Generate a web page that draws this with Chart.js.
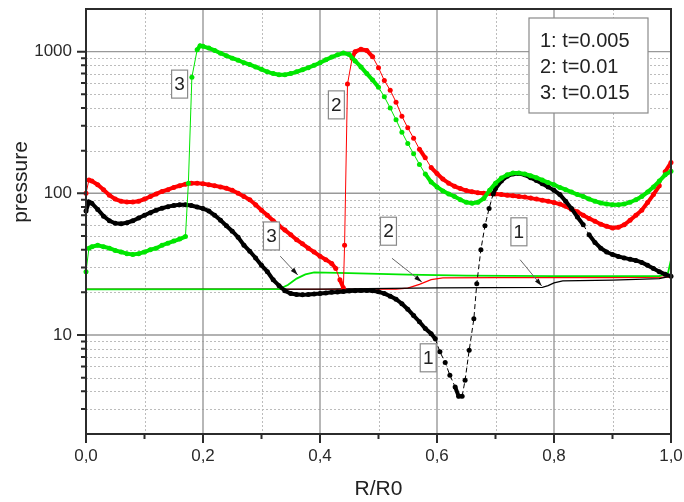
<!DOCTYPE html>
<html>
<head>
<meta charset="utf-8">
<script src="https://cdn.jsdelivr.net/npm/chart.js@4.4.0/dist/chart.umd.min.js"></script>
<style>
  html, body { margin: 0; padding: 0; background: #fff; }
</style>
</head>
<body>
<canvas id="chart" width="684" height="502"></canvas>
<script>
// axis ticks and legend text
const xTickValues = [0, 0.2, 0.4, 0.6, 0.8, 1.0];
const xMinor = [0.1, 0.3, 0.5, 0.7, 0.9];
const yTickValues = [10, 100, 1000];
const legendLines = ['1: t=0.005', '2: t=0.01', '3: t=0.015'];

// pressure profiles (dotted curves), [R/R0, pressure]
const press1 = [
  [0, 75], [0.005, 87], [0.01, 85], [0.02, 77], [0.03, 69], [0.04, 64], [0.05, 61.5], [0.06, 61], [0.07, 62], [0.08, 64], [0.09, 67],
  [0.1, 70], [0.11, 73], [0.12, 76], [0.13, 78.5], [0.14, 80.5], [0.15, 82], [0.16, 83], [0.17, 83], [0.18, 82], [0.19, 80],
  [0.2, 78], [0.21, 75], [0.22, 70], [0.23, 64.5], [0.24, 59], [0.25, 54], [0.26, 49], [0.27, 43], [0.28, 39], [0.29, 35],
  [0.3, 31], [0.31, 28], [0.32, 24.5], [0.33, 22.3], [0.34, 20.5], [0.35, 19.6], [0.36, 19.3], [0.37, 19.2], [0.38, 19.3], [0.39, 19.5],
  [0.4, 19.6], [0.41, 19.8], [0.42, 20], [0.43, 20.1], [0.44, 20.3], [0.45, 20.4], [0.46, 20.5], [0.47, 20.6], [0.48, 20.6], [0.49, 20.5],
  [0.5, 20.2], [0.51, 19.6], [0.52, 18.8], [0.53, 17.9], [0.54, 16.6], [0.55, 15.2], [0.56, 13.7], [0.57, 12.4], [0.58, 11.1], [0.59, 10.2],
  [0.597, 9.4], [0.605, 7.6], [0.614, 6.4], [0.622, 5.2], [0.631, 4.3], [0.637, 3.7], [0.643, 3.7], [0.648, 4.8], [0.655, 7.8],
  [0.663, 13], [0.668, 23], [0.675, 40], [0.682, 59], [0.689, 78], [0.696, 99],
  [0.7, 108], [0.71, 122], [0.72, 132], [0.73, 137], [0.74, 138], [0.75, 135], [0.76, 129], [0.77, 123], [0.78, 117], [0.79, 111],
  [0.8, 105], [0.81, 98], [0.82, 88], [0.83, 78], [0.84, 68], [0.85, 60], [0.86, 51], [0.87, 45], [0.88, 41], [0.89, 38.5],
  [0.9, 37], [0.91, 35.8], [0.92, 35], [0.93, 34.2], [0.94, 33.6], [0.95, 32.5], [0.96, 31], [0.97, 29.5], [0.98, 28], [0.99, 26.8], [1, 26]
];
const press2 = [
  [0, 100], [0.005, 124], [0.01, 122], [0.02, 115], [0.03, 106], [0.04, 97], [0.05, 91], [0.06, 88], [0.07, 87], [0.08, 87], [0.09, 88],
  [0.1, 91], [0.11, 95], [0.12, 99], [0.13, 103], [0.14, 106], [0.15, 110], [0.16, 113], [0.17, 116], [0.18, 118], [0.19, 118],
  [0.2, 117], [0.21, 115], [0.22, 113], [0.23, 111], [0.24, 108.5], [0.25, 105], [0.26, 100], [0.27, 95], [0.28, 90], [0.29, 83],
  [0.3, 76], [0.31, 70], [0.32, 64], [0.33, 59], [0.34, 55], [0.35, 51], [0.36, 47], [0.37, 44], [0.38, 41], [0.39, 38.5],
  [0.4, 36], [0.41, 34], [0.42, 32], [0.427, 29.5], [0.434, 24.5], [0.44, 21.5], [0.442, 43], [0.447, 590], [0.455, 900],
  [0.46, 1000], [0.47, 1040], [0.48, 1020], [0.49, 920],
  [0.5, 770], [0.51, 625], [0.52, 535], [0.53, 440], [0.54, 350], [0.55, 290], [0.56, 245], [0.57, 205], [0.58, 178], [0.59, 152],
  [0.6, 138], [0.61, 126], [0.62, 118], [0.63, 112], [0.64, 108], [0.65, 104.5], [0.66, 102.5], [0.67, 101], [0.68, 100], [0.69, 99.5],
  [0.7, 99], [0.71, 98], [0.72, 97], [0.73, 96], [0.74, 95], [0.75, 94], [0.76, 92.5], [0.77, 91], [0.78, 89.5], [0.79, 88],
  [0.8, 86], [0.81, 84], [0.82, 81], [0.83, 77], [0.84, 74], [0.85, 70], [0.86, 66.5], [0.87, 63.5], [0.88, 60.5], [0.89, 58.5],
  [0.9, 57], [0.91, 57.5], [0.92, 60], [0.93, 64.5], [0.94, 70], [0.95, 76], [0.96, 86], [0.97, 98], [0.98, 113], [0.99, 142], [1, 165]
];
const press3 = [
  [0, 28], [0.005, 41], [0.01, 42], [0.02, 43], [0.03, 42], [0.04, 41], [0.05, 39.5], [0.06, 38.5], [0.07, 37.5], [0.08, 37], [0.09, 37.5],
  [0.1, 38.5], [0.11, 40], [0.12, 41], [0.13, 43], [0.14, 44.5], [0.15, 46], [0.16, 47.5], [0.17, 49.5],
  [0.175, 118], [0.181, 660], [0.19, 1030], [0.195, 1100],
  [0.2, 1090], [0.21, 1060], [0.22, 1020], [0.23, 975], [0.24, 935], [0.25, 900], [0.26, 870], [0.27, 835], [0.28, 810], [0.29, 780],
  [0.3, 750], [0.31, 720], [0.32, 700], [0.33, 688], [0.34, 688], [0.35, 700], [0.36, 720], [0.37, 745], [0.38, 770], [0.39, 800],
  [0.4, 835], [0.41, 875], [0.42, 915], [0.43, 950], [0.44, 978], [0.45, 955], [0.46, 860], [0.47, 780], [0.48, 700], [0.49, 630],
  [0.5, 560], [0.51, 480], [0.52, 400], [0.53, 330], [0.54, 270], [0.55, 225], [0.56, 190], [0.57, 160], [0.58, 137], [0.59, 120],
  [0.6, 111], [0.61, 104], [0.62, 99], [0.63, 95], [0.64, 90], [0.65, 86.5], [0.66, 85], [0.67, 86.5], [0.68, 92], [0.69, 105],
  [0.7, 118], [0.71, 128], [0.72, 135], [0.73, 139], [0.74, 139], [0.75, 137], [0.76, 133], [0.77, 129], [0.78, 124], [0.79, 119],
  [0.8, 115], [0.81, 110], [0.82, 106], [0.83, 102], [0.84, 98], [0.85, 95], [0.86, 91], [0.87, 88], [0.88, 85.5], [0.89, 84],
  [0.9, 83], [0.91, 83], [0.92, 84], [0.93, 86.5], [0.94, 90], [0.95, 95], [0.96, 102], [0.97, 111], [0.98, 122], [0.99, 135], [1, 143]
];

// thin solid curves near the bottom
const level1 = [[0, 21], [0.4, 21.1], [0.6, 21.5], [0.78, 21.7], [0.79, 22.3], [0.8, 23.3], [0.815, 24.1], [0.9, 24.4], [0.98, 25], [1, 26]];
const level2 = [[0, 21], [0.53, 21.1], [0.55, 21.4], [0.57, 22.8], [0.59, 24.6], [0.61, 25.3], [0.7, 25.4], [0.9, 25.4], [1, 25.6]];
const level3 = [[0, 21], [0.33, 21.1], [0.345, 22.5], [0.36, 25], [0.375, 26.8], [0.39, 27.7], [0.45, 27.3], [0.55, 26.7],
  [0.65, 26.2], [0.8, 26], [0.98, 26], [0.995, 27.5], [1, 34]];

// numbered tags on the curves (text, R/R0, pressure) and their pointer arrows
const curveTags = [['3', 0.16, 590], ['2', 0.428, 421], ['1', 0.585, 6.9], ['3', 0.317, 50], ['2', 0.517, 54], ['1', 0.74, 53.5]];
const tagArrows = [[0.332, 36, 0.362, 26.5], [0.523, 34.8, 0.574, 23.7], [0.742, 34, 0.779, 22.2]];

const FONT = "'Liberation Sans', Arial, sans-serif";
Chart.defaults.font.family = FONT;
Chart.defaults.color = '#2a2a2a';

const toPts = arr => arr.map(([x, y]) => ({ x, y }));

const yMinor = [];
for (const d of [1, 10, 100, 1000]) {
  for (let m = 2; m < 10; m++) yMinor.push(d * m);
}

// short segments get a fat stroke so the dense dots read as one beaded line
const segLen = c => Math.hypot(c.p1.x - c.p0.x, c.p1.y - c.p0.y);

const dotted = (data, color, order, dash) => ({
  data: toPts(data),
  borderColor: color,
  backgroundColor: color,
  pointBackgroundColor: color,
  borderWidth: 1,
  pointRadius: 2.5,
  pointBorderWidth: 0,
  tension: 0,
  order: order,
  clip: 4,
  segment: {
    borderWidth: c => segLen(c) < 11 ? 4 : 1,
    borderDash: c => (dash && segLen(c) >= 11) ? dash : []
  }
});
const thin = (data, color, order, width) => ({
  data: toPts(data),
  borderColor: color,
  borderWidth: width,
  pointRadius: 0,
  tension: 0,
  order: order,
  clip: 4
});

const noPad = s => { s.paddingTop = 0; s.paddingBottom = 0; s.paddingLeft = 0; s.paddingRight = 0; };

const decor = {
  id: 'decor',
  beforeDatasetsDraw(chart) {
    const { ctx, chartArea: a, scales: { x, y } } = chart;
    ctx.save();
    ctx.lineWidth = 1;
    // dotted minor grid
    ctx.strokeStyle = '#bcbcbc';
    ctx.setLineDash([2, 2]);
    ctx.beginPath();
    for (const v of xMinor) {
      const p = Math.round(x.getPixelForValue(v)) + 0.5;
      ctx.moveTo(p, a.top); ctx.lineTo(p, a.bottom);
    }
    for (const v of yMinor) {
      if (v <= y.min || v >= y.max) continue;
      const p = Math.round(y.getPixelForValue(v)) + 0.5;
      ctx.moveTo(a.left, p); ctx.lineTo(a.right, p);
    }
    ctx.stroke();
    // solid major grid
    ctx.setLineDash([]);
    ctx.strokeStyle = '#999';
    ctx.lineWidth = 1.4;
    ctx.beginPath();
    for (const v of xTickValues.slice(1, -1)) {
      const p = x.getPixelForValue(v);
      ctx.moveTo(p, a.top); ctx.lineTo(p, a.bottom);
    }
    for (const v of yTickValues) {
      const p = y.getPixelForValue(v);
      ctx.moveTo(a.left, p); ctx.lineTo(a.right, p);
    }
    ctx.stroke();
    ctx.restore();
  },
  afterDatasetsDraw(chart) {
    const { ctx, chartArea: a, scales: { x, y } } = chart;
    ctx.save();
    // frame
    ctx.strokeStyle = '#2b2b2b';
    ctx.lineWidth = 2;
    ctx.strokeRect(a.left, a.top, a.width, a.height);
    // outward tick marks
    ctx.beginPath();
    for (const v of yTickValues) {
      const p = y.getPixelForValue(v);
      ctx.moveTo(a.left, p); ctx.lineTo(a.left - 9, p);
    }
    for (const v of yMinor) {
      if (v <= y.min || v >= y.max) continue;
      const p = y.getPixelForValue(v);
      ctx.moveTo(a.left, p); ctx.lineTo(a.left - 5, p);
    }
    for (const v of xTickValues) {
      const p = x.getPixelForValue(v);
      ctx.moveTo(p, a.bottom); ctx.lineTo(p, a.bottom + 9);
    }
    for (const v of xMinor) {
      const p = x.getPixelForValue(v);
      ctx.moveTo(p, a.bottom); ctx.lineTo(p, a.bottom + 5);
    }
    ctx.stroke();

    // pointer arrows
    for (const [x0, y0, x1, y1] of tagArrows) {
      const ax = x.getPixelForValue(x0), ay = y.getPixelForValue(y0);
      const bx = x.getPixelForValue(x1), by = y.getPixelForValue(y1);
      const ang = Math.atan2(by - ay, bx - ax);
      ctx.strokeStyle = '#666';
      ctx.lineWidth = 1;
      ctx.beginPath();
      ctx.moveTo(ax, ay); ctx.lineTo(bx, by);
      ctx.stroke();
      ctx.fillStyle = '#111';
      ctx.beginPath();
      ctx.moveTo(bx, by);
      ctx.lineTo(bx - 8 * Math.cos(ang - 0.3), by - 8 * Math.sin(ang - 0.3));
      ctx.lineTo(bx - 8 * Math.cos(ang + 0.3), by - 8 * Math.sin(ang + 0.3));
      ctx.closePath();
      ctx.fill();
    }

    // numbered tags
    ctx.font = '19px ' + FONT;
    ctx.textAlign = 'center';
    ctx.textBaseline = 'middle';
    for (const [t, tx, ty] of curveTags) {
      const cx = x.getPixelForValue(tx), cy = y.getPixelForValue(ty);
      const w = 16, h = 28;
      ctx.fillStyle = '#fff';
      ctx.fillRect(cx - w / 2, cy - h / 2, w, h);
      ctx.strokeStyle = '#8a8a8a';
      ctx.lineWidth = 1.2;
      ctx.strokeRect(cx - w / 2, cy - h / 2, w, h);
      ctx.fillStyle = '#222';
      ctx.fillText(t, cx, cy + 1);
    }

    // legend box
    const lx = a.right - 142, ly = a.top + 9, lw = 119, lh = 95;
    ctx.fillStyle = '#fff';
    ctx.fillRect(lx, ly, lw, lh);
    ctx.strokeStyle = '#8a8a8a';
    ctx.lineWidth = 1.2;
    ctx.strokeRect(lx, ly, lw, lh);
    ctx.fillStyle = '#222';
    ctx.font = '20px ' + FONT;
    ctx.textAlign = 'left';
    legendLines.forEach((s, i) => ctx.fillText(s, lx + 11, ly + 23 + i * 26));

    // axis titles
    ctx.font = '21px ' + FONT;
    ctx.textAlign = 'center';
    ctx.fillText('R/R0', (a.left + a.right) / 2, 489);
    ctx.translate(21, 182);
    ctx.rotate(-Math.PI / 2);
    ctx.fillText('pressure', 0, 0);
    ctx.restore();
  }
};

new Chart(document.getElementById('chart'), {
  type: 'line',
  data: {
    datasets: [
      dotted(press3, '#00e600', 1),
      dotted(press1, '#000000', 2, [5, 3]),
      dotted(press2, '#ff0000', 3),
      thin(level3, '#00e600', 4, 1.8),
      thin(level1, '#000000', 5, 1.3),
      thin(level2, '#ff0000', 6, 1.3)
    ]
  },
  options: {
    responsive: false,
    animation: false,
    layout: { padding: { top: 9, right: 13, left: 0, bottom: 0 } },
    plugins: { legend: { display: false }, tooltip: { enabled: false } },
    scales: {
      x: {
        type: 'linear',
        min: 0,
        max: 1,
        grid: { display: false, drawTicks: false },
        border: { display: false },
        afterBuildTicks: s => { s.ticks = xTickValues.map(value => ({ value })); },
        afterFit: s => { s.height = 68; noPad(s); },
        ticks: {
          autoSkip: false,
          maxRotation: 0,
          padding: 12,
          font: { size: 17 },
          callback: v => v.toFixed(1).replace('.', ',')
        }
      },
      y: {
        type: 'logarithmic',
        min: 2,
        max: 2000,
        grid: { display: false, drawTicks: false },
        border: { display: false },
        afterBuildTicks: s => { s.ticks = yTickValues.map(value => ({ value })); },
        afterFit: s => { s.width = 86; noPad(s); },
        ticks: {
          padding: 14,
          font: { size: 17 },
          callback: v => String(v)
        }
      }
    }
  },
  plugins: [decor]
});
</script>
</body>
</html>
